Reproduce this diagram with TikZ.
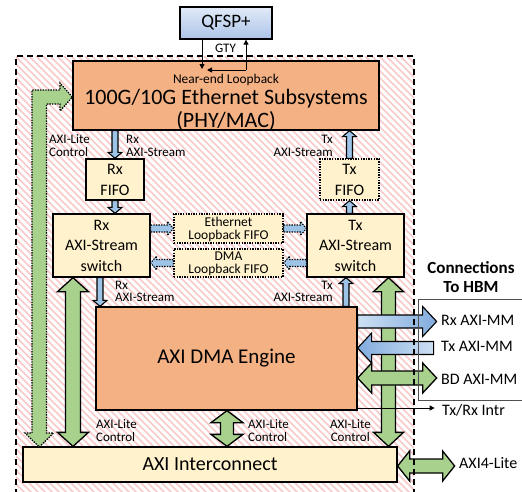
\documentclass[tikz,border=0pt]{standalone}
\usepackage{fontspec}
\setmainfont{Carlito}
\usetikzlibrary{calc,arrows.meta}
\definecolor{orng}{RGB}{244,177,131}
\definecolor{ylw}{RGB}{255,242,204}
\definecolor{grn}{RGB}{169,209,142}
\definecolor{blu}{RGB}{157,195,230}
\definecolor{blul}{RGB}{205,224,243}
\definecolor{blud}{RGB}{130,172,222}
\definecolor{hatchc}{RGB}{248,202,202}
\definecolor{qtop}{RGB}{225,234,248}
\definecolor{qbot}{RGB}{172,196,232}
\definecolor{hbmline}{RGB}{80,80,80}
\newcommand\fs[2]{\fontsize{#1}{#2}\selectfont}
% single block arrow: style, from, to, shaft half width, head half width, head length
\newcommand\sarr[6]{%
  \coordinate (hc) at ($(#3)!#6!(#2)$);
  \path[#1] ($(#2)!#4!90:(#3)$) -- ($(hc)!#4!-90:(#2)$) -- ($(hc)!#5!-90:(#2)$) -- (#3)
    -- ($(hc)!#5!90:(#2)$) -- ($(hc)!#4!90:(#2)$) -- ($(#2)!#4!-90:(#3)$) -- cycle;}
% double block arrow
\newcommand\darr[6]{%
  \coordinate (hca) at ($(#2)!#6!(#3)$);
  \coordinate (hcb) at ($(#3)!#6!(#2)$);
  \path[#1] (#2) -- ($(hca)!#5!90:(#3)$) -- ($(hca)!#4!90:(#3)$) -- ($(hcb)!#4!-90:(#2)$)
    -- ($(hcb)!#5!-90:(#2)$) -- (#3) -- ($(hcb)!#5!90:(#2)$) -- ($(hcb)!#4!90:(#2)$)
    -- ($(hca)!#4!-90:(#3)$) -- ($(hca)!#5!-90:(#3)$) -- cycle;}
\begin{document}
\begin{tikzpicture}[x=1pt,y=-1pt,
  box/.style={draw=black, line width=1.3pt, inner sep=0pt, align=center},
  dotbox/.style={box, dash pattern=on 1.4pt off 1.2pt},
  barrow/.style={draw=black, line width=1.1pt, fill=blu},
  dbarrow/.style={barrow, dash pattern=on 1.4pt off 1.2pt},
  garrow/.style={draw=black, line width=1.3pt, fill=grn},
  tarrow/.style={draw=black, line width=0.9pt, -{Triangle[length=5pt,width=5pt]}},
  lbl/.style={inner sep=0pt, font=\fs{13}{13}},
  rlbl/.style={inner sep=0pt, font=\fs{16}{16}}]
\useasboundingbox (0,0) rectangle (522,491);
% hatched area
\begin{scope}
  \clip (16,56) rectangle (414,495);
  \foreach \i in {-440,-433,...,420} \draw[hatchc, line width=1.6pt] (\i,56) -- ++(460,460);
\end{scope}
% HBM connection panel
\fill[white] (418,299) rectangle (530,400);
% boxes
\node[box, top color=qtop, bottom color=qbot, minimum width=92pt, minimum height=32pt, font=\fs{19}{22}] (qsfp) at (226,23) {QFSP+};
\node[box, fill=orng, minimum width=306pt, minimum height=69pt] (eth) at (226,95.5) {};
\node[box, fill=ylw, minimum width=58pt, minimum height=41pt, font=\fs{16}{21}] (rxfifo) at (115,179.5) {Rx\\FIFO};
\node[dotbox, fill=ylw, minimum width=59pt, minimum height=41pt, font=\fs{16}{21}] (txfifo) at (349.5,179.5) {Tx\\FIFO};
\node[box, fill=ylw, minimum width=97pt, minimum height=63pt, font=\fs{16}{20.5}] (rxsw) at (101.5,245.5) {Rx\\AXI-Stream\\switch};
\node[box, fill=ylw, minimum width=97pt, minimum height=63pt, font=\fs{16}{20.5}] (txsw) at (355.5,245.5) {Tx\\AXI-Stream\\switch};
\node[dotbox, fill=ylw, minimum width=109pt, minimum height=29pt, font=\fs{13.5}{13}, text depth=0pt] (ethfifo) at (228.5,228.5) {Ethernet\\Loopback FIFO};
\node[dotbox, fill=ylw, minimum width=109pt, minimum height=28pt, font=\fs{13.5}{13}, text depth=0pt] (dmafifo) at (228.5,263) {DMA\\Loopback FIFO};
\node[box, fill=orng, minimum width=261pt, minimum height=103pt, font=\fs{21}{24}] (dma) at (226.5,358.5) {AXI DMA Engine};
\node[box, fill=ylw, minimum width=374pt, minimum height=35pt, font=\fs{20}{24}] (axi) at (210,464.5) {AXI Interconnect};
% Ethernet subsystem text
\node[anchor=base, inner sep=0pt, font=\fs{13.4}{14}] (nel) at (226,83) {Near-end Loopback};
\node[anchor=base, inner sep=0pt, font=\fs{22}{23}] (ethl1) at (226,104) {100G/10G Ethernet Subsystems};
\node[anchor=base, inner sep=0pt, font=\fs{22}{23}] (ethl2) at (226,127) {(PHY/MAC)};
% GTY connectors
\coordinate (q1) at ([xshift=-24pt]qsfp.south);
\coordinate (q1e) at (202,69);
\coordinate (q2) at ([xshift=20pt]qsfp.south);
\coordinate (lb) at (q2 |- 0,70);
\coordinate (lbe) at (207,70);
\draw[tarrow] (q1) -- (q1e);
\draw[tarrow] (lb) -- (lbe);
\draw[tarrow] (lb) -- (q2);
% stream arrows
\coordinate (a1s) at (eth.south -| rxfifo.north);
\sarr{barrow}{a1s}{rxfifo.north}{3pt}{7pt}{6pt}
\coordinate (a2e) at (rxsw.north -| rxfifo.south);
\sarr{barrow}{rxfifo.south}{a2e}{3pt}{7pt}{6pt}
\coordinate (a3e) at (eth.south -| txfifo.north);
\sarr{barrow}{txfifo.north}{a3e}{3pt}{7pt}{6pt}
\coordinate (a4s) at (txsw.north -| txfifo.south);
\sarr{barrow}{a4s}{txfifo.south}{3pt}{7pt}{6pt}
\coordinate (a5s) at ([xshift=-1.5pt]rxsw.south);
\coordinate (a5e) at (dma.north -| a5s);
\sarr{barrow}{a5s}{a5e}{3pt}{7pt}{6pt}
\coordinate (a6e) at ([xshift=-9.5pt]txsw.south);
\coordinate (a6s) at (dma.north -| a6e);
\sarr{barrow}{a6s}{a6e}{3pt}{7pt}{6pt}
% loopback arrows
\coordinate (l1s) at (rxsw.east |- ethfifo.west);
\sarr{dbarrow}{l1s}{ethfifo.west}{3.5pt}{7pt}{6pt}
\coordinate (l2e) at (txsw.west |- ethfifo.east);
\sarr{dbarrow}{ethfifo.east}{l2e}{3.5pt}{7pt}{6pt}
\coordinate (l3s) at (txsw.west |- dmafifo.east);
\sarr{dbarrow}{l3s}{dmafifo.east}{3.5pt}{7pt}{6pt}
\coordinate (l4e) at (rxsw.east |- dmafifo.west);
\sarr{dbarrow}{dmafifo.west}{l4e}{3.5pt}{7pt}{6pt}
% green AXI-Lite arrows
\coordinate (g1s) at ([xshift=-28.5pt]rxsw.south);
\coordinate (g1e) at (axi.north -| g1s);
\darr{garrow}{g1s}{g1e}{7.5pt}{15.5pt}{14pt}
\coordinate (g2s) at ([xshift=33pt]txsw.south);
\coordinate (g2e) at (axi.north -| g2s);
\darr{garrow}{g2s}{g2e}{7pt}{15pt}{14pt}
\coordinate (g3s) at ([xshift=0.5pt]dma.south);
\coordinate (g3e) at (axi.north -| g3s);
\darr{garrow}{g3s}{g3e}{6.5pt}{16pt}{12pt}
% bent dotted control arrow
\coordinate (bt1) at (eth.west |- 0,97);
\coordinate (bt2) at (39.25,447);
\path[garrow, dash pattern=on 1.4pt off 1.2pt] (bt1) -- (60,83) -- (60,90) -- (32,90) -- (32,433) -- (25,433)
  -- (bt2) -- (53.5,433) -- (46.5,433) -- (46.5,104) -- (60,104) -- (60,111) -- cycle;
% HBM arrows
\coordinate (h1s) at ([yshift=37pt]dma.east);
\coordinate (h1e) at ([xshift=79pt]h1s);
\sarr{barrow, left color=blul, right color=blud}{h1s}{h1e}{6.5pt}{15pt}{14pt}
\coordinate (h2e) at ([yshift=10.5pt]dma.east);
\coordinate (h2s) at ([xshift=76pt]h2e);
\sarr{barrow, left color=blud, right color=blul}{h2s}{h2e}{6.5pt}{15pt}{14pt}
\coordinate (h3s) at ([yshift=-19.5pt]dma.east);
\coordinate (h3e) at ([xshift=79pt]h3s);
\darr{garrow}{h3s}{h3e}{7pt}{15pt}{14pt}
\coordinate (i1s) at ([yshift=-49.5pt]dma.east);
\coordinate (i1e) at ([xshift=77pt]i1s);
\draw[tarrow] (i1s) -- (i1e);
\coordinate (g4s) at ([yshift=-1.5pt]axi.east);
\coordinate (g4e) at ([xshift=57pt]g4s);
\darr{garrow}{g4s}{g4e}{7pt}{15pt}{12pt}
% borders on top
\draw[black, line width=1.5pt, dash pattern=on 6pt off 4pt] (16,495) -- (16,56) -- (414,56) -- (414,495);
\draw[hbmline, line width=0.9pt] (530,299) -- (418,299) -- (418,400) -- (530,400);
% labels
\node[lbl, anchor=base] at (225.5,52) {GTY};
\node[lbl, anchor=base west] at (49,143) {AXI-Lite};
\node[lbl, anchor=base west] at (49,156) {Control};
\node[lbl, anchor=base west] at (126,143) {Rx};
\node[lbl, anchor=base west] at (126,156) {AXI-Stream};
\node[lbl, anchor=base east] at (333,143) {Tx};
\node[lbl, anchor=base east] at (333,156) {AXI-Stream};
\node[lbl, anchor=base west] at (115,289) {Rx};
\node[lbl, anchor=base west] at (115,301) {AXI-Stream};
\node[lbl, anchor=base east] at (333,289) {Tx};
\node[lbl, anchor=base east] at (333,301) {AXI-Stream};
\node[lbl, anchor=base west] at (96,428) {AXI-Lite};
\node[lbl, anchor=base west] at (96,441) {Control};
\node[lbl, anchor=base west] at (248,428) {AXI-Lite};
\node[lbl, anchor=base west] at (248,441) {Control};
\node[lbl, anchor=base east] at (371,428) {AXI-Lite};
\node[lbl, anchor=base east] at (370,441) {Control};
\node[inner sep=0pt, anchor=base, font=\fs{17}{17}\bfseries] at (471,273) {Connections};
\node[inner sep=0pt, anchor=base, font=\fs{17}{17}\bfseries] at (471,292) {To HBM};
\node[rlbl, anchor=base west] at (441,325) {Rx AXI-MM};
\node[rlbl, anchor=base west] at (441,351) {Tx AXI-MM};
\node[rlbl, anchor=base west] at (441,384) {BD AXI-MM};
\node[rlbl, anchor=base west] at (442,415) {Tx/Rx Intr};
\node[rlbl, anchor=base west] at (459,468) {AXI4-Lite};
\end{tikzpicture}
\end{document}
